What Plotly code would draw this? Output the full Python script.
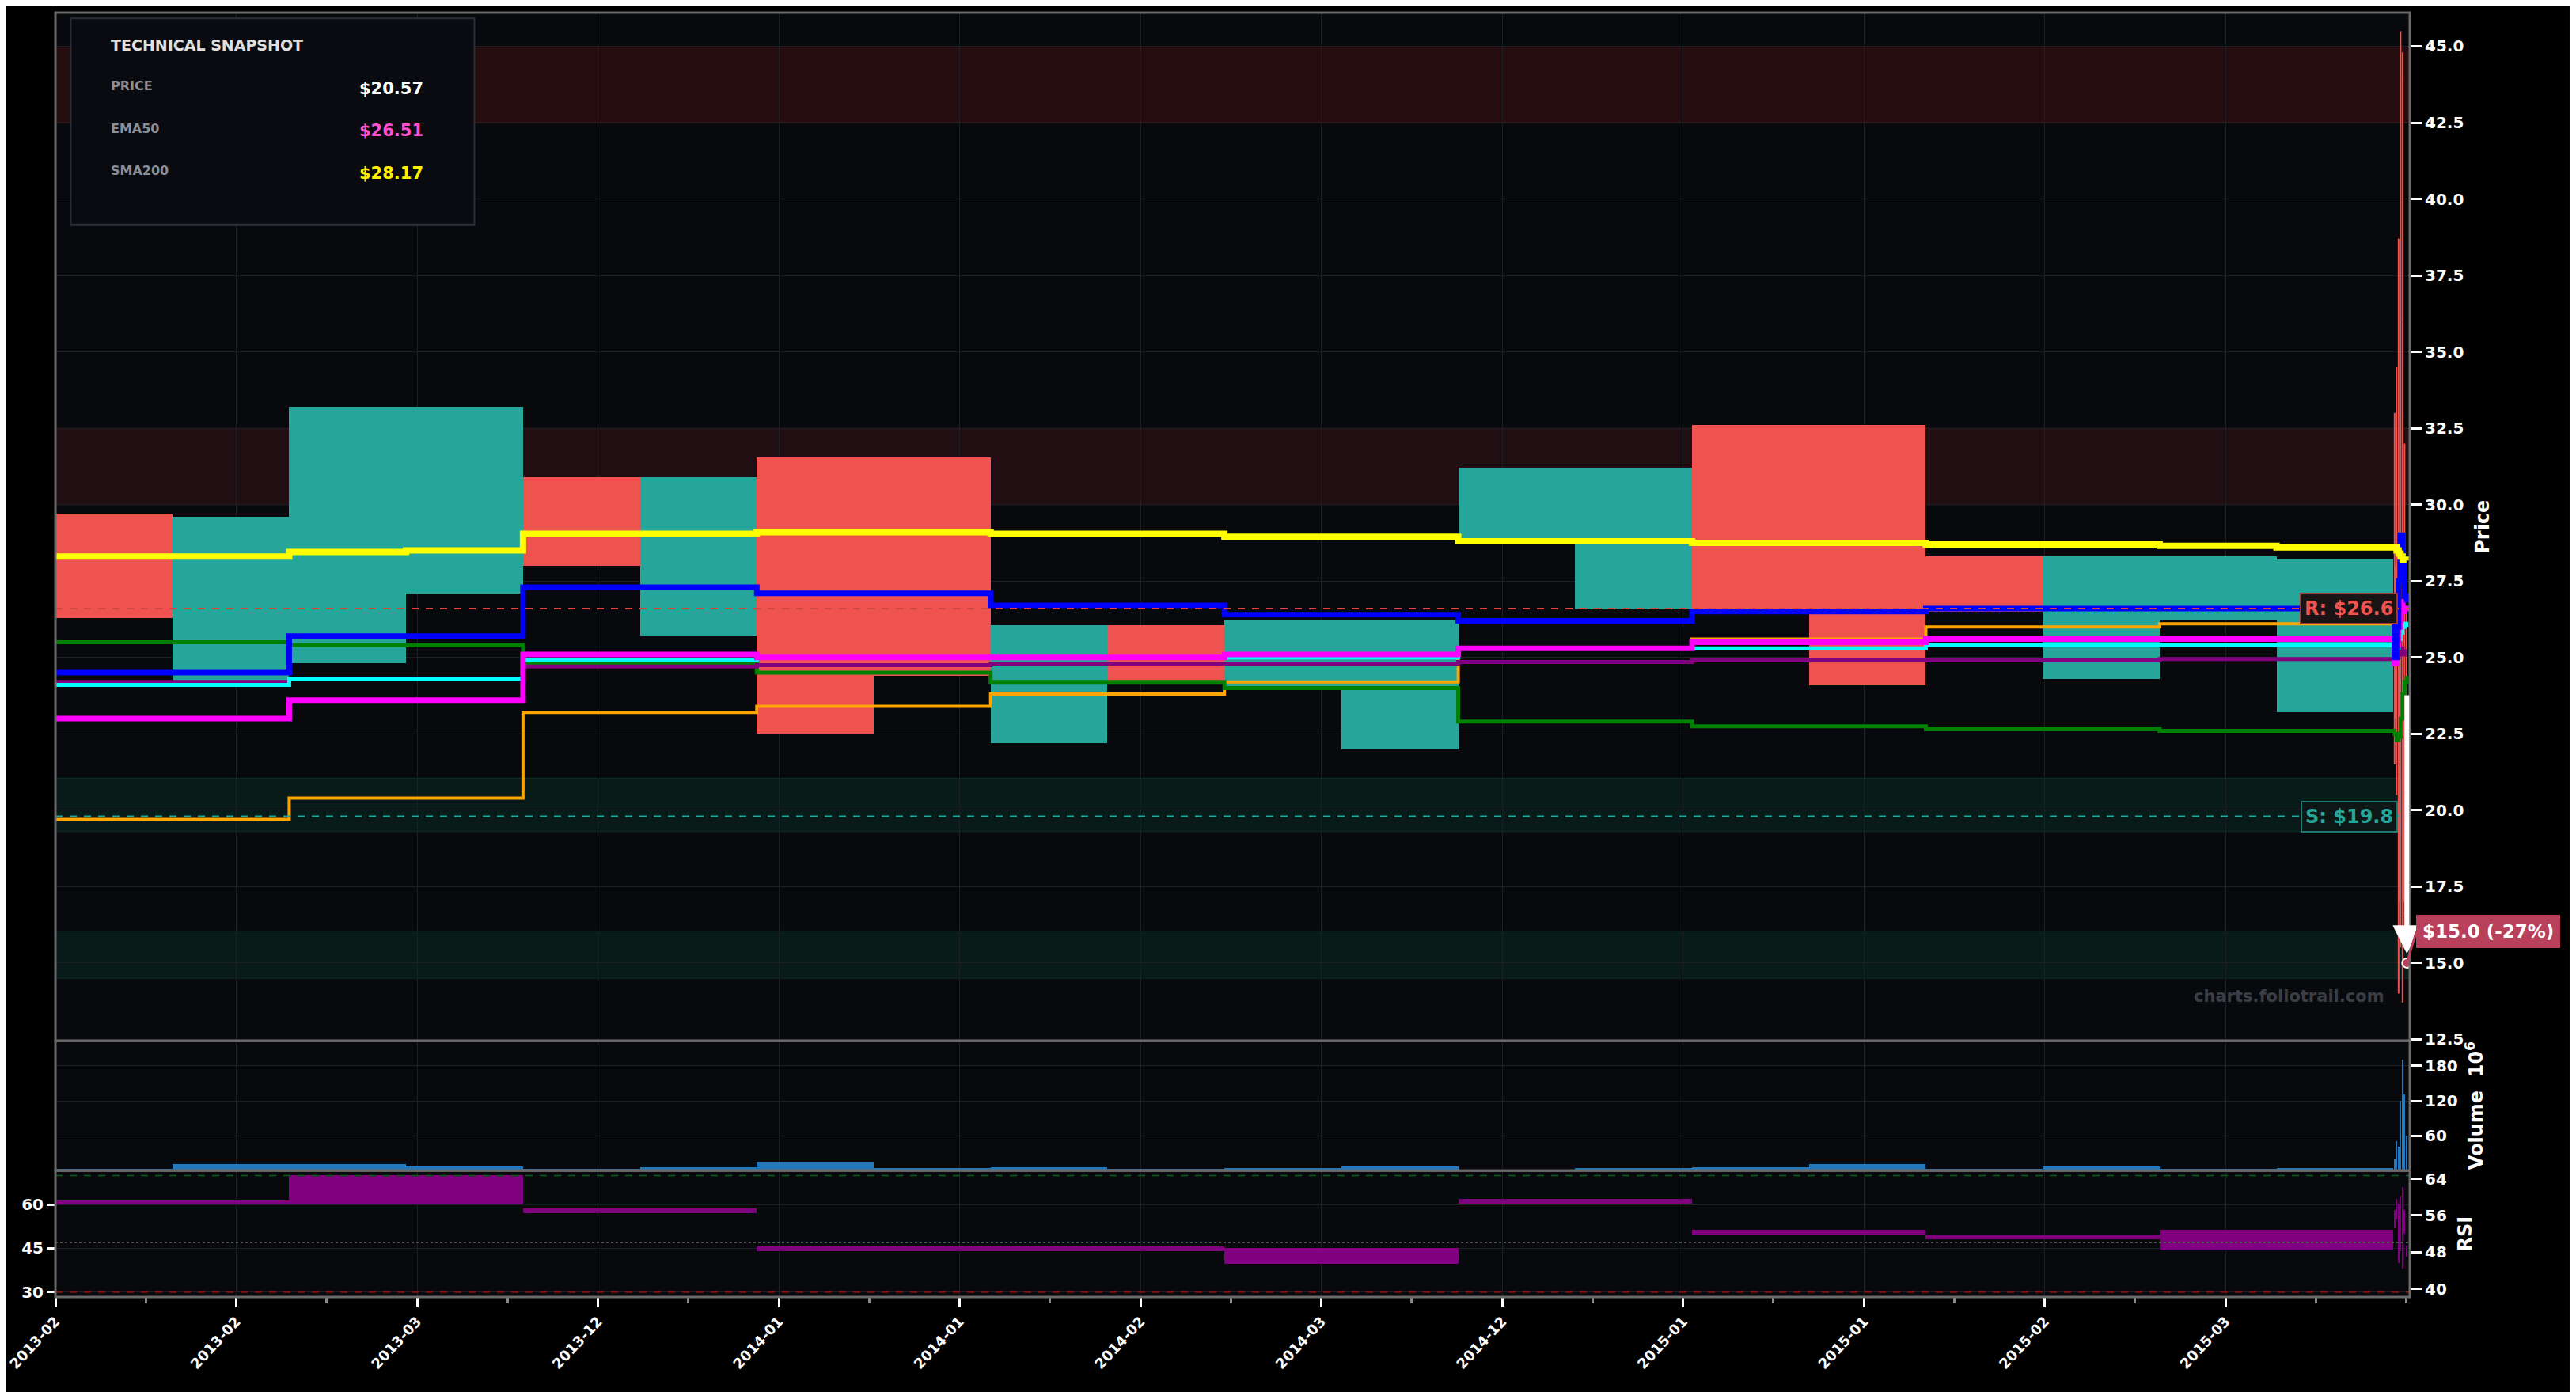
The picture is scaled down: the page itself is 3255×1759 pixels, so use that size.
import plotly.graph_objects as go

# ---- data: 20 wide blocks + a tight cluster of sessions at the end ----
TICK_LABELS = ["2013-02", "2013-02", "2013-03", "2013-12", "2014-01", "2014-01", "2014-02",
               "2014-03", "2014-12", "2015-01", "2015-01", "2015-02", "2015-03"]

BLK_OPEN = [29.7, 24.2, 24.8, 27.1, 30.9, 25.7, 31.55, 31.55, 22.2, 26.05,
            24.0, 22.0, 28.85, 26.6, 32.6, 32.6, 28.3, 24.3, 26.2, 23.2]
BLK_CLOSE = [26.3, 29.6, 33.2, 33.2, 28.0, 30.9, 22.5, 24.4, 26.05, 24.2,
             26.2, 26.2, 31.2, 31.2, 26.5, 24.1, 26.5, 28.3, 28.3, 28.2]

CL_OPEN = [28.0, 22.5, 27.0, 16.5, 44.0, 17.0, 24.0]
CL_HIGH = [33.0, 34.5, 38.7, 45.5, 44.8, 32.0, 26.5]
CL_LOW = [21.5, 20.5, 14.0, 15.5, 13.7, 16.0, 17.5]
CL_CLOSE = [23.0, 27.0, 17.0, 36.0, 16.5, 23.0, 20.57]

SMA200 = [28.3, 28.3, 28.45, 28.5, 29.05, 29.05, 29.1, 29.1, 29.05, 29.05, 28.95, 28.95,
          28.8, 28.8, 28.75, 28.75, 28.7, 28.7, 28.65, 28.6, 28.6, 28.5, 28.4, 28.3, 28.2, 28.2, 28.17]
BLUE = [24.5, 24.5, 25.7, 25.7, 27.3, 27.3, 27.1, 27.1, 26.7, 26.7, 26.4, 26.4, 26.2, 26.2,
        26.5, 26.5, 26.6, 26.6, 26.6, 26.6, 25.0, 26.0, 27.5, 29.0, 28.0, 27.0, 26.8]
EMA50 = [23.0, 23.0, 23.6, 23.6, 25.1, 25.1, 25.0, 25.0, 25.0, 25.0, 25.1, 25.1, 25.3, 25.3,
         25.5, 25.5, 25.6, 25.6, 25.6, 25.6, 24.8, 25.4, 26.0, 26.8, 26.5, 26.6, 26.51]
ORANGE = [19.7, 19.7, 20.4, 20.4, 23.2, 23.2, 23.4, 23.4, 23.8, 23.8, 24.2, 24.2, 25.3, 25.3,
          25.6, 25.6, 26.0, 26.0, 26.1, 26.1, 26.1, 26.1, 26.0, 26.0, 26.0, 26.0, 26.0]
GREEN = [25.5, 25.5, 25.4, 25.4, 24.8, 24.8, 24.5, 24.5, 24.2, 24.2, 24.0, 24.0, 22.9, 22.9,
         22.75, 22.75, 22.65, 22.65, 22.6, 22.6, 22.5, 22.3, 22.4, 23.0, 23.8, 24.2, 24.4]
CYAN = [24.1, 24.1, 24.3, 24.3, 24.9, 24.9, 25.0, 25.0, 25.0, 25.0, 25.0, 25.0, 25.3, 25.3,
        25.3, 25.3, 25.4, 25.4, 25.4, 25.4, 25.2, 25.3, 25.6, 25.8, 26.0, 26.1, 26.0]
PURPLE = [24.2, 24.2, 24.3, 24.3, 24.7, 24.7, 24.75, 24.75, 24.8, 24.8, 24.8, 24.8, 24.85, 24.85,
          24.9, 24.9, 24.9, 24.9, 24.95, 24.95, 24.8, 25.0, 25.2, 25.3, 25.1, 25.2, 25.2]

VOL_BLK = [3, 11, 10, 7, 2, 5, 15, 4, 5, 2, 4, 7, 1, 4, 5, 10, 3, 6, 3, 4]
VOL_CL = [20, 50, 40, 120, 190, 130, 60]

RSI_LO = [59.9, 59.9, 59.9, 59.9, 57.0, 57.0, 44.1, 44.1, 44.1, 44.1, 39.6, 39.6,
          60.4, 60.4, 49.7, 49.7, 48.0, 48.0, 44.2, 44.2]
RSI_HI = [59.9, 59.9, 70.0, 70.0, 57.0, 57.0, 44.1, 44.1, 44.1, 44.1, 45.0, 45.0,
          60.4, 60.4, 49.7, 49.7, 48.0, 48.0, 51.4, 51.4]
RSI_CL_LO = [52, 55, 40, 44, 38, 50, 42]
RSI_CL_HI = [58, 62, 60, 63, 66, 58, 46]

RESIST, SUPPORT, TARGET = 26.6, 19.8, 15.0

TEAL, RED = "#26a69a", "#ef5350"
BG = "#07090d"
GRID = "#1c1f25"
FONT = "DejaVu Sans"

n = len(BLK_OPEN)
bx = [i + 0.5 for i in range(n)]
cx = [20.01 + 0.017 * k for k in range(len(CL_OPEN))]
line_x = list(range(n)) + cx
tick_pos = [k * 1.547 for k in range(len(TICK_LABELS))]

fig = go.Figure()

# price blocks
fig.add_trace(go.Bar(
    x=bx, base=[min(o, c) for o, c in zip(BLK_OPEN, BLK_CLOSE)],
    y=[abs(c - o) for o, c in zip(BLK_OPEN, BLK_CLOSE)], width=1.0,
    marker=dict(color=[TEAL if c >= o else RED for o, c in zip(BLK_OPEN, BLK_CLOSE)], line_width=0),
    showlegend=False, yaxis="y"))
# cluster wicks + bodies
wx, wy = [], []
for x, h, l in zip(cx, CL_HIGH, CL_LOW):
    wx += [x, x, None]
    wy += [l, h, None]
fig.add_trace(go.Scatter(x=wx, y=wy, mode="lines", line=dict(color=RED, width=2),
                         showlegend=False, yaxis="y"))
fig.add_trace(go.Bar(
    x=cx, base=[min(o, c) for o, c in zip(CL_OPEN, CL_CLOSE)],
    y=[abs(c - o) for o, c in zip(CL_OPEN, CL_CLOSE)], width=0.005,
    marker=dict(color=[TEAL if c >= o else RED for o, c in zip(CL_OPEN, CL_CLOSE)], line_width=0),
    showlegend=False, yaxis="y"))

for vals, col, w in [(ORANGE, "#ffa500", 4), (GREEN, "#008000", 5), (PURPLE, "#800080", 5),
                     (CYAN, "#00ffff", 5), (EMA50, "#ff00ff", 7), (BLUE, "#0000ff", 7),
                     (SMA200, "#ffff00", 8)]:
    fig.add_trace(go.Scatter(x=line_x, y=vals, mode="lines", line=dict(color=col, width=w, shape="hv"),
                             showlegend=False, yaxis="y"))

# volume
fig.add_trace(go.Bar(x=bx, y=VOL_BLK, width=1.0, marker=dict(color="#2479bd", line_width=0),
                     showlegend=False, yaxis="y2"))
fig.add_trace(go.Bar(x=cx, y=VOL_CL, width=0.008, marker=dict(color="#2479bd", line_width=0),
                     showlegend=False, yaxis="y2"))

# RSI
fig.add_trace(go.Bar(x=bx, base=RSI_LO, y=[max(h - l, 1.6) for l, h in zip(RSI_LO, RSI_HI)], width=1.0,
                     marker=dict(color="#800080", line_width=0), showlegend=False, yaxis="y3"))
fig.add_trace(go.Bar(x=cx, base=RSI_CL_LO, y=[h - l for l, h in zip(RSI_CL_LO, RSI_CL_HI)], width=0.006,
                     marker=dict(color="#800080", line_width=0), showlegend=False, yaxis="y3"))
fig.add_trace(go.Scatter(x=[0], y=[50], mode="markers", marker=dict(opacity=0),
                         showlegend=False, hoverinfo="skip", yaxis="y4"))

shapes = []
# zones
for y0, y1, c in [(42.5, 45.0, "rgba(110,20,20,0.30)"), (30.0, 32.5, "rgba(110,30,40,0.25)"),
                  (19.3, 21.05, "rgba(20,90,70,0.22)"), (14.5, 16.05, "rgba(20,90,70,0.22)")]:
    shapes.append(dict(type="rect", xref="x domain", yref="y", x0=0, x1=1, y0=y0, y1=y1,
                       fillcolor=c, line=dict(color="rgba(120,40,40,0.5)" if y0 > 25 else "rgba(30,90,70,0.4)", width=1),
                       layer="below"))
shapes.append(dict(type="line", xref="x domain", yref="y", x0=0, x1=1, y0=RESIST, y1=RESIST,
                   line=dict(color="#d04848", width=2, dash="dash")))
shapes.append(dict(type="line", xref="x domain", yref="y", x0=0, x1=1, y0=SUPPORT, y1=SUPPORT,
                   line=dict(color="#26a69a", width=2, dash="dash")))
for yv, c, d in [(70, "#0f4d1a", "dash"), (30, "#7a1515", "dash"), (47, "#555555", "dot")]:
    shapes.append(dict(type="line", xref="x domain", yref="y3", x0=0, x1=1, y0=yv, y1=yv,
                       line=dict(color=c, width=2, dash=d)))
# panel borders
for ya in ["y", "y2", "y3"]:
    shapes.append(dict(type="rect", xref="x domain", yref=ya + " domain", x0=0, x1=1, y0=0, y1=1,
                       line=dict(color="#6a6a6a", width=3)))
# snapshot box
shapes.append(dict(type="rect", xref="paper", yref="paper", x0=0.0065, x1=0.178, y0=0.835, y1=0.9955,
                   fillcolor="#0a0b10", line=dict(color="#2a2f38", width=2)))

ann = [
    dict(text="<b>TECHNICAL SNAPSHOT</b>", x=0.023, y=0.975, font=dict(size=19, color="#e0e0e0")),
    dict(text="<b>PRICE</b>", x=0.023, y=0.943, font=dict(size=16, color="#8a8f98")),
    dict(text="<b>EMA50</b>", x=0.023, y=0.910, font=dict(size=16, color="#8a8f98")),
    dict(text="<b>SMA200</b>", x=0.023, y=0.877, font=dict(size=16, color="#8a8f98")),
    dict(text="<b>$20.57</b>", x=0.157, y=0.941, xanchor="right", font=dict(size=21, color="#ffffff")),
    dict(text="<b>$26.51</b>", x=0.157, y=0.908, xanchor="right", font=dict(size=21, color="#ff4fd0")),
    dict(text="<b>$28.17</b>", x=0.157, y=0.875, xanchor="right", font=dict(size=21, color="#ffee00")),
]
for a in ann:
    a.update(xref="paper", yref="paper", showarrow=False, yanchor="middle", font_family=FONT)
    a.setdefault("xanchor", "left")

ann += [
    dict(text="<b>R: $26.6</b>", xref="x", yref="y", x=19.62, y=RESIST, showarrow=False,
         font=dict(size=24, color="#ef5350", family=FONT), bgcolor="#1a1414",
         bordercolor="#a03838", borderwidth=2, borderpad=4),
    dict(text="<b>S: $19.8</b>", xref="x", yref="y", x=19.62, y=SUPPORT, showarrow=False,
         font=dict(size=24, color="#26a69a", family=FONT), bgcolor="#0c1716",
         bordercolor="#1d7a70", borderwidth=2, borderpad=4),
    dict(text="<b>charts.foliotrail.com</b>", xref="x domain", yref="y", x=0.99, y=13.9,
         xanchor="right", showarrow=False, font=dict(size=21, color="#3a3d44", family=FONT)),
    dict(text="", xref="x", yref="y", x=20.115, y=TARGET + 0.3, ax=20.115, ay=23.8,
         axref="x", ayref="y", showarrow=True, arrowhead=2, arrowsize=1.2, arrowwidth=6,
         arrowcolor="#ffffff"),
    dict(text="<b>$15.0 (-27%)</b>", xref="x", yref="y", x=20.115, y=TARGET, ax=12, ay=-40,
         showarrow=True, arrowhead=0, arrowwidth=3, arrowcolor="#c0405a",
         font=dict(size=23, color="#ffffff", family=FONT), bgcolor="#b8405a",
         bordercolor="#b8405a", borderpad=7, xanchor="left"),
]

fig.add_trace(go.Scatter(x=[20.115], y=[TARGET], mode="markers", showlegend=False, yaxis="y",
                         marker=dict(size=12, color="#c0405a", line=dict(color="#ffffff", width=2))))

axis_font = dict(family=FONT, size=20, color="#ffffff", weight="bold")
fig.update_layout(
    width=3255, height=1759, barmode="overlay", bargap=0,
    paper_bgcolor="#000000", plot_bgcolor=BG,
    margin=dict(l=62, r=218, t=8, b=128),
    shapes=shapes, annotations=ann,
    xaxis=dict(range=[0, 20.14], anchor="y3", tickvals=tick_pos, ticktext=TICK_LABELS,
               tickangle=-47, tickfont=dict(family=FONT, size=18, color="#ffffff", weight="bold"),
               ticklabeloverflow="allow",
               ticks="outside", ticklen=12, tickwidth=3,
               tickcolor="#ffffff", showgrid=True, gridcolor=GRID, zeroline=False, automargin=False,
               minor=dict(ticks="outside", ticklen=7, tickcolor="#888888", dtick=0.7735, tick0=0,
                          showgrid=False)),
    yaxis=dict(domain=[0.1994, 1], range=[12.45, 46.1], side="right", anchor="x",
               tickvals=[12.5 + 2.5 * k for k in range(14)], tickformat=".1f", tickfont=axis_font,
               ticks="outside", ticklen=14, tickwidth=3, tickcolor="#ffffff", automargin=False,
               gridcolor=GRID, zeroline=False,
               title=dict(text="<b>Price</b>", font=dict(family=FONT, size=24, color="#ffffff"))),
    yaxis2=dict(domain=[0.0985, 0.1994], range=[0, 223], side="right", anchor="x",
                tickvals=[60, 120, 180], tickfont=axis_font, ticks="outside", ticklen=14,
                tickwidth=3, tickcolor="#ffffff", gridcolor=GRID, zeroline=False, automargin=False,
                title=dict(text="<b>Volume  10<sup>6</sup></b>", font=dict(family=FONT, size=24, color="#ffffff"))),
    yaxis3=dict(domain=[0, 0.0985], range=[28.3, 71.7], side="left", anchor="x",
                tickvals=[30, 45, 60], tickfont=axis_font, ticks="outside", ticklen=10,
                tickwidth=3, tickcolor="#ffffff", gridcolor=GRID, zeroline=False, automargin=False),
    yaxis4=dict(overlaying="y3", range=[38.2, 65.8], side="right", anchor="x",
                tickvals=[40, 48, 56, 64], tickfont=axis_font, ticks="outside", ticklen=14,
                tickwidth=3, tickcolor="#ffffff", showgrid=False, zeroline=False, automargin=False,
                title=dict(text="<b>RSI</b>", font=dict(family=FONT, size=24, color="#ffffff"))),
)

fig.write_html("out.html")
